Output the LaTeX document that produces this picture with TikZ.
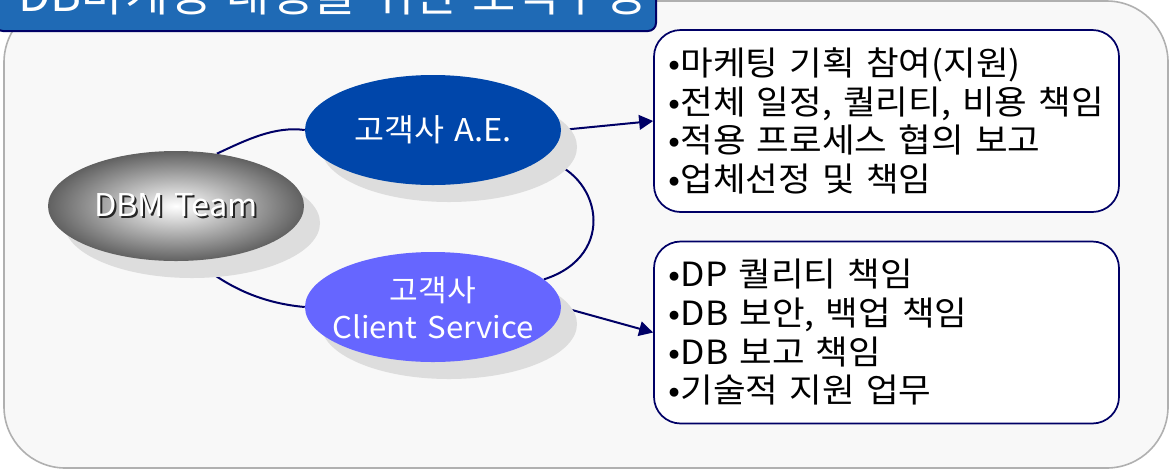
\documentclass[tikz,border=0pt]{standalone}
\usepackage{fontspec}
\setmainfont[FakeStretch=1.04, WordSpace=1.4]{Noto Sans CJK KR}
\newfontfamily\boxfont[FakeStretch=1.065, WordSpace=1.5]{Noto Sans CJK KR}
\usetikzlibrary{shapes.geometric,shadows,arrows.meta}
\definecolor{navy}{HTML}{000066}
\definecolor{bgfill}{HTML}{F8F8F8}
\definecolor{bgline}{HTML}{B0B0B0}
\definecolor{titleblue}{HTML}{1F6AB5}
\definecolor{aeblue}{HTML}{0046AA}
\definecolor{csblue}{HTML}{6666FF}
\definecolor{shadowgray}{HTML}{DDDDDD}
\pgfdeclarelayer{bg}
\pgfsetlayers{bg,main}
\newcommand{\shadowtext}[1]{\rlap{\kern1.5pt\raisebox{-1.5pt}{\textcolor{black!85}{#1}}}#1}
\newcommand{\flatbox}[1]{\smash{\makebox[0pt]{\raisebox{-0.42em}{\begin{tabular}{@{}c@{}}#1\end{tabular}}}}}
\tikzset{
  oval/.style={ellipse, inner sep=0pt, minimum width=192pt, minimum height=82.5pt, text=white, align=center,
    drop shadow={shadow xshift=12pt, shadow yshift=-12.75pt, fill=shadowgray, opacity=1}},
  conn/.style={draw=navy, line width=1.5pt},
  arrowconn/.style={draw=navy, line width=1.5pt, -{Triangle[length=10.5pt,width=11pt]}},
  infobox/.style={draw=navy, line width=1.3pt, fill=white, rounded corners=20pt,
    minimum width=348.75pt, minimum height=136.5pt, text width=327pt, align=left,
    font=\boxfont\fontsize{25pt}{29pt}\selectfont, inner xsep=10.5pt},
}
\begin{document}
\begin{tikzpicture}[x=0.75pt,y=-0.75pt]
\useasboundingbox (0,0) rectangle (1170,469);
\begin{pgfonlayer}{bg}
  \draw[draw=bgline, fill=bgfill, line width=1.2pt, rounded corners=46pt] (4,1) rectangle (1168,468);
\end{pgfonlayer}
\clip (0,0) rectangle (1170,469);
\draw[draw=navy, fill=titleblue, line width=1.5pt, rounded corners=6pt] (-5,-60) rectangle (656,31);
\node[anchor=base west, inner sep=0pt, text=white, font=\fontsize{34pt}{38pt}\selectfont] (title) at (18,11) {DB마케팅 대행을 위한 조직구성};

\node[oval, inner color=white, outer color=black!62, font=\fontsize{23.5pt}{26pt}\selectfont] (dbm) at (176,206) {\shadowtext{DBM Team}};
\node[oval, fill=aeblue, font=\fontsize{23.5pt}{26pt}\selectfont] (ae) at (433,130) {고객사 A.E.};
\node[oval, fill=csblue, font=\fontsize{22.5pt}{28pt}\selectfont] (cs) at (433,307) {\flatbox{고객사\\Client Service}};

\node[infobox] (box1) at (886.5,121) {•마케팅 기획 참여(지원)\\•전체 일정, 퀄리티, 비용 책임\\•적용 프로세스 협의 보고\\•업체선정 및 책임};
\node[infobox] (box2) at (886.5,332.5) {•DP 퀄리티 책임\\•DB 보안, 백업 책임\\•DB 보고 책임\\•기술적 지원 업무};

\begin{pgfonlayer}{bg}
  \draw[conn] (dbm.52) .. controls +(30,-14) and +(-30,-4) .. (ae.west);
  \draw[conn] (dbm.-70) .. controls +(29,25) and +(-45,-4) .. (cs.west);
  \draw[conn] (ae.-15) .. controls +(59,13) and +(75,-24) .. (cs.14);
  \draw[arrowconn] (ae.east) -- (box1.west);
  \draw[arrowconn] (cs.east) -- (box2.west);
\end{pgfonlayer}
\end{tikzpicture}
\end{document}
